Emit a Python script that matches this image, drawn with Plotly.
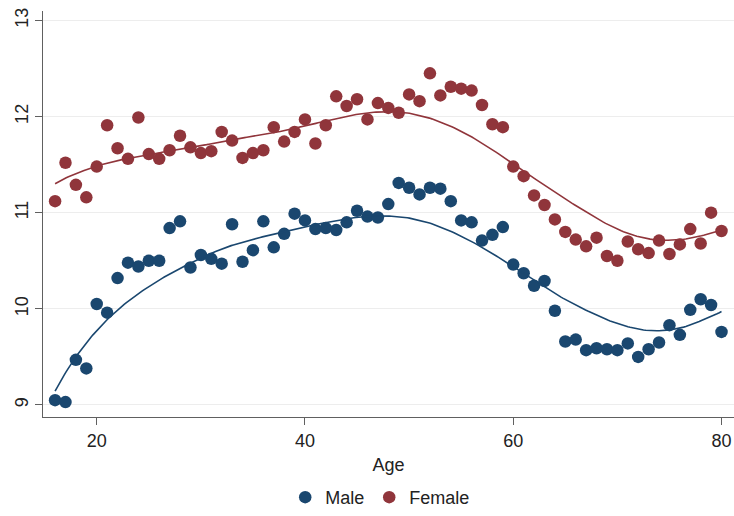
import numpy as np
import plotly.graph_objects as go

# Mean outcome by single year of age
ages = list(range(16, 81))

male = [9.05, 9.03, 9.47, 9.38, 10.05, 9.96, 10.32, 10.48, 10.44, 10.50,
        10.50, 10.84, 10.91, 10.43, 10.56, 10.52, 10.47, 10.88, 10.49, 10.61,
        10.91, 10.64, 10.78, 10.99, 10.92, 10.83, 10.84, 10.82, 10.90, 11.02,
        10.96, 10.95, 11.09, 11.31, 11.26, 11.19, 11.26, 11.25, 11.12, 10.92,
        10.90, 10.71, 10.77, 10.85, 10.46, 10.37, 10.24, 10.29, 9.98, 9.66,
        9.68, 9.57, 9.59, 9.58, 9.57, 9.64, 9.50, 9.58, 9.65, 9.83,
        9.73, 9.99, 10.10, 10.04, 9.76]

female = [11.12, 11.52, 11.29, 11.16, 11.48, 11.91, 11.67, 11.56, 11.99, 11.61,
          11.56, 11.65, 11.80, 11.68, 11.62, 11.64, 11.84, 11.75, 11.57, 11.62,
          11.65, 11.89, 11.74, 11.84, 11.97, 11.72, 11.91, 12.21, 12.11, 12.18,
          11.97, 12.14, 12.09, 12.04, 12.23, 12.16, 12.45, 12.22, 12.31, 12.29,
          12.27, 12.12, 11.92, 11.89, 11.48, 11.38, 11.18, 11.08, 10.93, 10.80,
          10.72, 10.65, 10.74, 10.55, 10.50, 10.70, 10.62, 10.58, 10.71, 10.57,
          10.67, 10.83, 10.68, 11.00, 10.81]

x_ticks = [20, 40, 60, 80]
y_ticks = [9, 10, 11, 12, 13]

NAVY = "#1a476f"
MAROON = "#90353b"
FONT = "Liberation Sans, Arial, sans-serif"
TEXT = "#222222"

age_arr = np.array(ages, dtype=float)
grid = np.linspace(age_arr.min(), age_arr.max(), 300)


def local_linear(y, half_width=15.0):
    """Kernel-weighted local linear smoother (Epanechnikov weights)."""
    y = np.array(y, dtype=float)
    fitted = []
    for x0 in grid:
        d = age_arr - x0
        w = np.clip(1 - (d / half_width) ** 2, 0, None)
        sw = np.sqrt(w)
        X = np.column_stack([np.ones_like(age_arr), d])
        beta, *_ = np.linalg.lstsq(X * sw[:, None], y * sw, rcond=None)
        fitted.append(beta[0])
    return np.array(fitted)


fig = go.Figure()

for name, vals, col in [("Male", male, NAVY), ("Female", female, MAROON)]:
    fig.add_trace(go.Scatter(
        x=ages, y=vals, mode="markers", name=name,
        marker=dict(color=col, size=12.5, line=dict(width=0)),
    ))

for vals, col in [(male, NAVY), (female, MAROON)]:
    fig.add_trace(go.Scatter(
        x=grid, y=local_linear(vals), mode="lines", showlegend=False,
        line=dict(color=col, width=1.6), hoverinfo="skip",
    ))

axis_common = dict(
    showline=True, linecolor="#606060", linewidth=1.3,
    ticks="outside", ticklen=7, tickcolor="#606060", tickwidth=1.3,
    tickfont=dict(family=FONT, size=18, color=TEXT),
    zeroline=False,
)

fig.update_xaxes(
    range=[14.84, 81.2], tickvals=x_ticks, showgrid=False,
    title=dict(text="Age", font=dict(family=FONT, size=18, color=TEXT),
               standoff=8),
    **axis_common,
)
fig.update_yaxes(
    range=[8.875, 13.098], tickvals=y_ticks, tickangle=-90,
    showgrid=True, gridcolor="#ededed", gridwidth=1.3,
    **axis_common,
)

fig.update_layout(
    width=734, height=516,
    margin=dict(l=43, r=0, t=11, b=94.5),
    paper_bgcolor="white", plot_bgcolor="white",
    font=dict(family=FONT, size=18, color=TEXT),
    legend=dict(
        orientation="h", x=0.488, xanchor="center", y=-0.1985, yanchor="middle",
        font=dict(family=FONT, size=18, color=TEXT),
        itemwidth=30, tracegroupgap=0,
    ),
)

fig.write_html("out.html")
